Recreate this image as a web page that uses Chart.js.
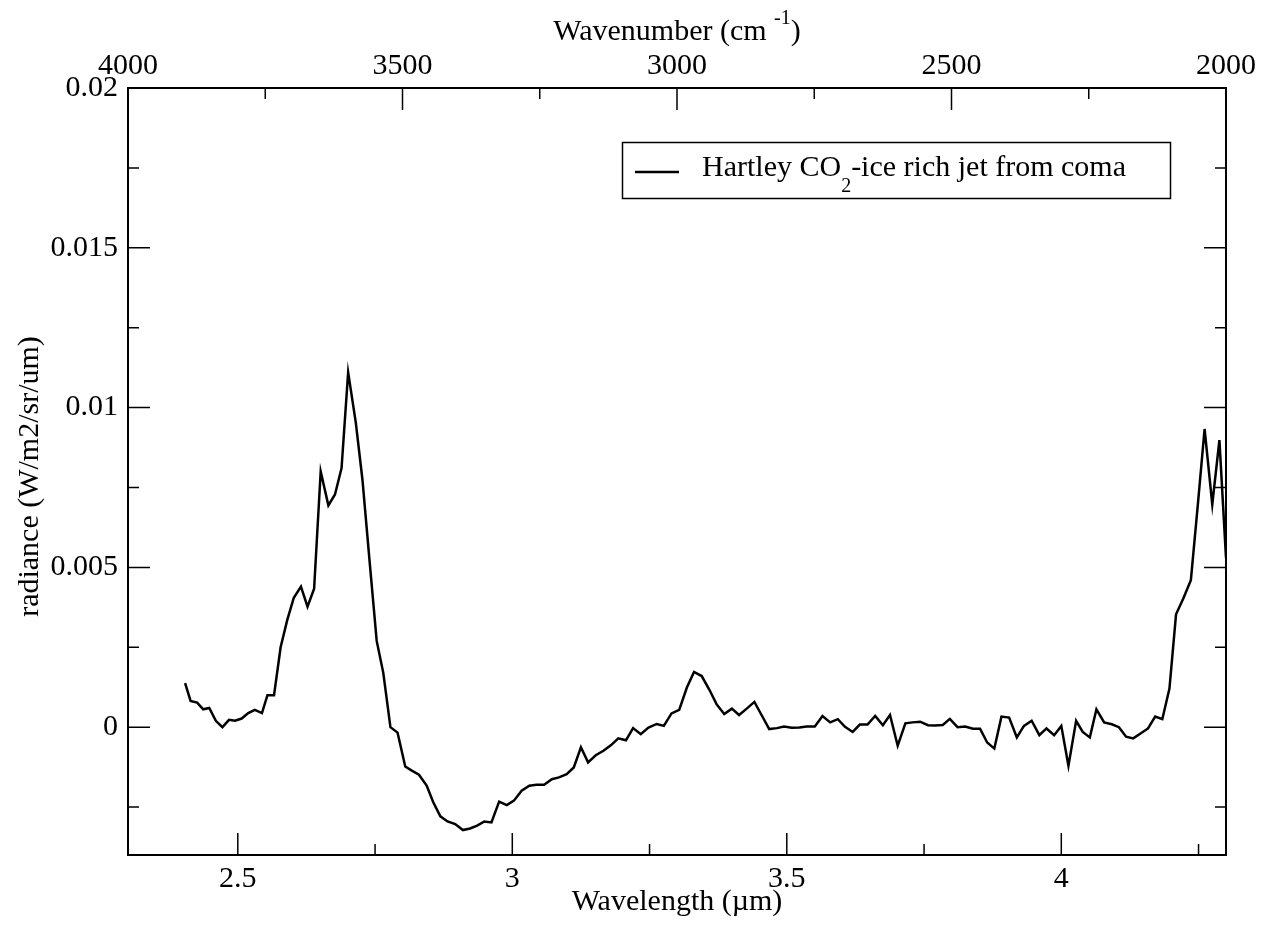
<!DOCTYPE html>
<html>
<head>
<meta charset="utf-8">
<script src="https://cdn.jsdelivr.net/npm/chart.js@4.4.1/dist/chart.umd.min.js"></script>
<style>
  body { margin: 0; background: #fff; }
  #wrap { width: 1273px; height: 933px; }
</style>
</head>
<body>
<div id="wrap"><canvas id="spectrum" width="1273" height="933"></canvas></div>
<script>
// spectrum: wavelength (um) and radiance (W/m2/sr/um)
const wavelength = [
  2.404, 2.414, 2.426, 2.437, 2.448, 2.460, 2.472, 2.484, 2.495, 2.507,
  2.519, 2.531, 2.544, 2.554, 2.566, 2.578, 2.590, 2.602, 2.615, 2.627,
  2.639, 2.651, 2.665, 2.677, 2.689, 2.701, 2.715, 2.727, 2.740, 2.753,
  2.765, 2.778, 2.791, 2.805, 2.817, 2.830, 2.844, 2.856, 2.869, 2.882,
  2.896, 2.910, 2.923, 2.936, 2.949, 2.962, 2.976, 2.990, 3.003, 3.017,
  3.031, 3.044, 3.058, 3.072, 3.085, 3.099, 3.112, 3.125, 3.138, 3.152,
  3.166, 3.180, 3.193, 3.207, 3.220, 3.234, 3.248, 3.263, 3.276, 3.290,
  3.304, 3.318, 3.331, 3.345, 3.359, 3.372, 3.386, 3.400, 3.413, 3.427,
  3.441, 3.454, 3.468, 3.482, 3.495, 3.509, 3.523, 3.536, 3.551, 3.565,
  3.579, 3.593, 3.606, 3.620, 3.633, 3.647, 3.661, 3.675, 3.688, 3.702,
  3.716, 3.729, 3.743, 3.757, 3.770, 3.784, 3.797, 3.811, 3.825, 3.839,
  3.852, 3.865, 3.878, 3.891, 3.905, 3.919, 3.932, 3.946, 3.960, 3.973,
  3.987, 4.000, 4.013, 4.027, 4.039, 4.052, 4.064, 4.078, 4.092, 4.105,
  4.118, 4.131, 4.145, 4.158, 4.171, 4.184, 4.197, 4.209, 4.222, 4.236,
  4.249, 4.261, 4.275, 4.288, 4.300
];
const radiance = [
  0.00138, 0.00082, 0.00077, 0.00056, 0.00060, 0.00020, 0.00000, 0.00023, 0.00020, 0.00027,
  0.00044, 0.00054, 0.00044, 0.00100, 0.00100, 0.00250, 0.00335, 0.00405, 0.00440, 0.00377,
  0.00433, 0.00800, 0.00694, 0.00728, 0.00811, 0.01110, 0.00952, 0.00775, 0.00520, 0.00270,
  0.00170, 0.00000, -0.00017, -0.00123, -0.00136, -0.00149, -0.00183, -0.00235, -0.00279, -0.00295,
  -0.00303, -0.00322, -0.00317, -0.00308, -0.00295, -0.00298, -0.00233, -0.00244, -0.00230, -0.00199,
  -0.00183, -0.00180, -0.00180, -0.00163, -0.00157, -0.00147, -0.00126, -0.00063, -0.00110, -0.00088,
  -0.00074, -0.00056, -0.00035, -0.00041, -0.00003, -0.00022, -0.00001, 0.00010, 0.00004, 0.00043,
  0.00054, 0.00124, 0.00173, 0.00160, 0.00117, 0.00072, 0.00041, 0.00058, 0.00038, 0.00058,
  0.00079, 0.00038, -0.00006, -0.00003, 0.00002, -0.00002, -0.00001, 0.00002, 0.00002, 0.00035,
  0.00015, 0.00025, 0.00001, -0.00015, 0.00008, 0.00008, 0.00035, 0.00006, 0.00038, -0.00058,
  0.00012, 0.00015, 0.00017, 0.00006, 0.00005, 0.00007, 0.00026, 0.00000, 0.00002, -0.00005,
  -0.00005, -0.00048, -0.00067, 0.00033, 0.00030, -0.00032, 0.00004, 0.00020, -0.00025, -0.00004,
  -0.00025, 0.00004, -0.00121, 0.00020, -0.00015, -0.00032, 0.00056, 0.00015, 0.00009, 0.00000,
  -0.00030, -0.00035, -0.00019, -0.00004, 0.00033, 0.00025, 0.00121, 0.00353, 0.00402, 0.00460,
  0.00702, 0.00933, 0.00697, 0.00898, 0.00530
];

// tick values
const wavelengthTicks = [2.5, 3, 3.5, 4];
const wavelengthMinor = [2.75, 3.25, 3.75, 4.25];
const wavenumberTicks = [4000, 3500, 3000, 2500, 2000];
const wavenumberMinor = [3750, 3250, 2750, 2250];
const radianceTicks = [0, 0.005, 0.01, 0.015, 0.02];
const radianceMinor = [-0.0025, 0.0025, 0.0075, 0.0125, 0.0175];

const seriesName = ["Hartley CO", "2", "-ice rich jet from coma"];

const serif = "'Liberation Serif', 'Times New Roman', serif";
const tickFont = { family: serif, size: 30 };

// xmgrace style frame: inward ticks on all four sides, titles, legend box
const gracePlugin = {
  id: "grace",
  afterDraw(chart) {
    const ctx = chart.ctx;
    const a = chart.chartArea;
    const x = chart.scales.x, x2 = chart.scales.x2, y = chart.scales.y;
    ctx.save();
    ctx.strokeStyle = "#000";
    ctx.fillStyle = "#000";
    ctx.lineWidth = 1.5;
    ctx.beginPath();
    // bottom wavelength ticks
    wavelengthTicks.forEach((v) => { const p = x.getPixelForValue(v); ctx.moveTo(p, a.bottom); ctx.lineTo(p, a.bottom - 22); });
    wavelengthMinor.forEach((v) => { const p = x.getPixelForValue(v); ctx.moveTo(p, a.bottom); ctx.lineTo(p, a.bottom - 11); });
    // top wavenumber ticks
    wavenumberTicks.forEach((v) => { const p = x2.getPixelForValue(v); ctx.moveTo(p, a.top); ctx.lineTo(p, a.top + 22); });
    wavenumberMinor.forEach((v) => { const p = x2.getPixelForValue(v); ctx.moveTo(p, a.top); ctx.lineTo(p, a.top + 11); });
    // left and right radiance ticks
    radianceTicks.forEach((v) => {
      const p = y.getPixelForValue(v);
      ctx.moveTo(a.left, p); ctx.lineTo(a.left + 22, p);
      ctx.moveTo(a.right, p); ctx.lineTo(a.right - 22, p);
    });
    radianceMinor.forEach((v) => {
      const p = y.getPixelForValue(v);
      ctx.moveTo(a.left, p); ctx.lineTo(a.left + 11, p);
      ctx.moveTo(a.right, p); ctx.lineTo(a.right - 11, p);
    });
    ctx.stroke();

    // frame
    ctx.lineWidth = 2;
    ctx.strokeRect(a.left, a.top, a.right - a.left, a.bottom - a.top);

    // axis titles
    const cx = (a.left + a.right) / 2;
    ctx.font = "30px " + serif;
    ctx.textBaseline = "alphabetic";
    ctx.textAlign = "center";
    ctx.fillText("Wavelength (\u00b5m)", cx, 910);

    // top title with superscript
    const t1 = "Wavenumber (cm ", t2 = "-1", t3 = ")";
    ctx.font = "30px " + serif;
    const w1 = ctx.measureText(t1).width, w3 = ctx.measureText(t3).width;
    ctx.font = "20px " + serif;
    const w2 = ctx.measureText(t2).width;
    let tx = cx - (w1 + w2 + w3) / 2;
    ctx.textAlign = "left";
    ctx.font = "30px " + serif;
    ctx.fillText(t1, tx, 40);
    ctx.font = "20px " + serif;
    ctx.fillText(t2, tx + w1, 24);
    ctx.font = "30px " + serif;
    ctx.fillText(t3, tx + w1 + w2, 40);

    // y title
    ctx.save();
    ctx.translate(38, (a.top + a.bottom) / 2 + 5);
    ctx.rotate(-Math.PI / 2);
    ctx.textAlign = "center";
    ctx.font = "30px " + serif;
    ctx.fillText("radiance (W/m2/sr/um)", 0, 0);
    ctx.restore();

    // legend box
    ctx.lineWidth = 1.5;
    ctx.strokeRect(622.5, 142.5, 548, 56);
    ctx.lineWidth = 2.5;
    ctx.beginPath();
    ctx.moveTo(635, 172);
    ctx.lineTo(679, 172);
    ctx.stroke();
    ctx.textAlign = "left";
    ctx.font = "30px " + serif;
    let lx = 702;
    ctx.fillText(seriesName[0], lx, 176);
    lx += ctx.measureText(seriesName[0]).width;
    ctx.font = "20px " + serif;
    ctx.fillText(seriesName[1], lx, 192);
    lx += ctx.measureText(seriesName[1]).width;
    ctx.font = "30px " + serif;
    ctx.fillText(seriesName[2], lx, 176);
    ctx.restore();
  }
};

const points = wavelength.map((w, i) => ({ x: w, y: radiance[i] }));

new Chart(document.getElementById("spectrum"), {
  type: "line",
  data: {
    datasets: [
      {
        label: seriesName.join(""),
        data: points,
        borderColor: "#000",
        borderWidth: 2.5,
        pointRadius: 0,
        tension: 0,
        fill: false,
      },
    ],
  },
  options: {
    responsive: false,
    animation: false,
    layout: { padding: { left: 0, top: 0, right: 47, bottom: 0 } },
    plugins: { legend: { display: false }, tooltip: { enabled: false } },
    scales: {
      x: {
        type: "linear",
        position: "bottom",
        min: 2.3,
        max: 4.3,
        afterBuildTicks: (s) => { s.ticks = wavelengthTicks.map((v) => ({ value: v })); },
        afterFit: (s) => { s.height = 78; },
        grid: { display: false, drawTicks: false, tickLength: 0 },
        border: { display: false },
        ticks: { font: tickFont, color: "#000", padding: 6, maxRotation: 0, callback: (v) => String(v) },
      },
      x2: {
        type: "linear",
        axis: "x",
        position: "top",
        reverse: true,
        min: 2000,
        max: 4000,
        afterBuildTicks: (s) => { s.ticks = wavenumberTicks.map((v) => ({ value: v })); },
        afterFit: (s) => { s.height = 88; },
        grid: { display: false, drawTicks: false, tickLength: 0 },
        border: { display: false },
        ticks: { font: tickFont, color: "#000", padding: 4, maxRotation: 0, callback: (v) => String(v) },
      },
      y: {
        type: "linear",
        min: -0.004,
        max: 0.02,
        afterBuildTicks: (s) => { s.ticks = radianceTicks.map((v) => ({ value: v })); },
        afterFit: (s) => { s.width = 128; },
        grid: { display: false, drawTicks: false, tickLength: 0 },
        border: { display: false },
        ticks: { font: tickFont, color: "#000", padding: 10, callback: (v) => String(v) },
      },
    },
  },
  plugins: [gracePlugin],
});
</script>
</body>
</html>
